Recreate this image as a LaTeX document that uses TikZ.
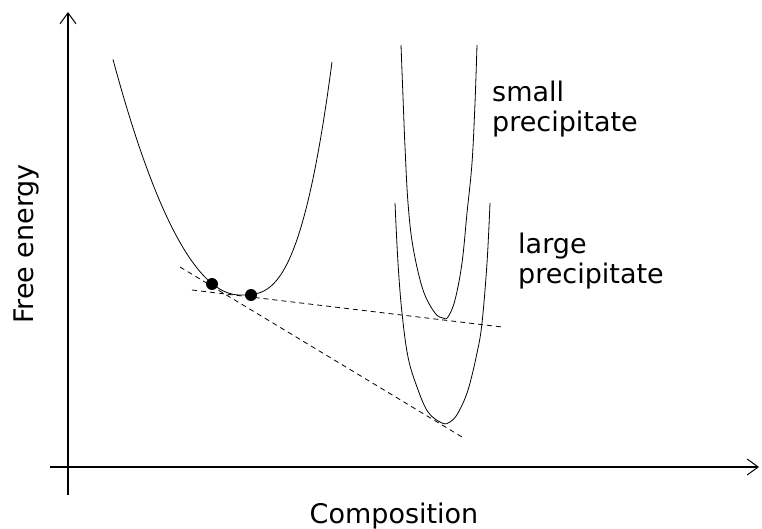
\documentclass[tikz,border=0pt]{standalone}
\usepackage{fontspec}
\setmainfont{DejaVu Sans}
\usetikzlibrary{arrows.meta,positioning,calc}

\tikzset{
  axis/.style={line width=1.1pt, -{Straight Barb[length=11pt,width=16pt,line width=1pt]}},
  curve/.style={line width=0.8pt},
  tangent/.style={line width=0.8pt, dash pattern=on 5pt off 4pt},
  dot/.style={circle, fill=black, inner sep=0pt, minimum size=12pt},
  lbl/.style={font=\fontsize{27}{30}\selectfont, inner sep=0pt}
}

\begin{document}
\begin{tikzpicture}[x=1pt,y=-1pt]
    \useasboundingbox (0,0) rectangle (762,529);

    % Axes
    \coordinate (ybot) at (68,495);
    \coordinate (ytop) at (68,12);
    \coordinate (xleft) at (50,467);
    \coordinate (xright) at (759,467);
    \draw[axis] (ybot) -- (ytop);
    \draw[axis] (xleft) -- (xright);
    \node[lbl, rotate=90, anchor=base] (fe) at (33,244) {Free energy};
    \node[lbl, anchor=base] (comp) at (394,523) {Composition};

    % Matrix curve
    \draw[curve] plot[domain=113:240, samples=60] (\x, {295-0.0146*(240-\x)^2})
      -- plot[domain=240:332, samples=50] (\x, {295-233*((\x-240)/92)^3});

    % Small precipitate
    \draw[curve] plot[smooth, tension=0.6] coordinates {(401,45) (403,97) (405,147) (408,203)
      (413,247) (423,290) (435,313) (443,318) (448,317) (455,300) (462,263) (467,213)
      (472,163) (475,103) (477,45)};
    \node[lbl, anchor=base west, align=left] (small) at (492,132) {small\\precipitate};

    % Large precipitate
    \draw[curve] plot[smooth, tension=0.6] coordinates {(395,203) (398,263) (402,313) (408,357)
      (417,387) (428,412) (442,423) (450,422) (458,413) (468,390) (477,353) (482,323)
      (487,263) (490,203)};
    \node[lbl, anchor=base west, align=left] (large) at (518,283) {large\\precipitate};

    % Common tangents
    \coordinate (s1) at (192,290);
    \coordinate (s2) at (502,327);
    \coordinate (l1) at (180,267);
    \coordinate (l2) at (462,437);
    \draw[tangent] (s1) -- (s2);
    \draw[tangent] (l1) -- (l2);

    % Tangent points
    \node[dot] (d1) at (212,284) {};
    \node[dot] (d2) at (251,295) {};
  \end{tikzpicture}
\end{document}
